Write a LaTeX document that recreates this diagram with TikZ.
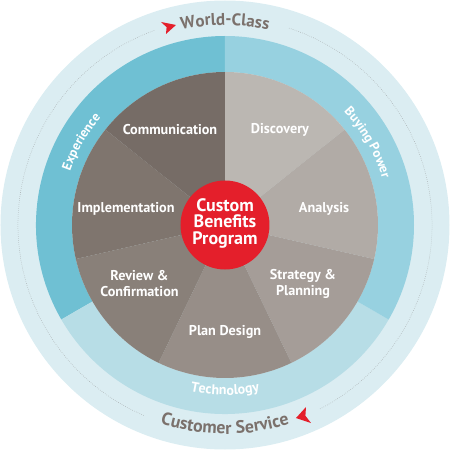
\documentclass[tikz,border=0pt]{standalone}
\usepackage{fontspec}
\setmainfont{PT Sans}
\usetikzlibrary{decorations.text}
\definecolor{outerring}{HTML}{DBEDF2}
\definecolor{expc}{HTML}{6FC0D3}
\definecolor{buyc}{HTML}{97D1E0}
\definecolor{techc}{HTML}{B7DDE6}
\definecolor{commc}{HTML}{766C66}
\definecolor{implc}{HTML}{7F756E}
\definecolor{revc}{HTML}{898079}
\definecolor{planc}{HTML}{978E88}
\definecolor{stratc}{HTML}{A59D98}
\definecolor{anac}{HTML}{B1ABA6}
\definecolor{discc}{HTML}{BBB7B2}
\definecolor{redc}{HTML}{E41F2B}
\definecolor{greytxt}{HTML}{7B716C}
\definecolor{dotc}{HTML}{A8AEB0}
\tikzset{
  pielabel/.style={text=white, font=\bfseries\fontsize{14.2}{16}\selectfont, align=center, inner sep=0pt},
  centerlabel/.style={text=white, font=\bfseries\fontsize{18}{16.5}\selectfont, align=center, inner sep=0pt},
  dotring/.style={dotc, line width=0.5pt, dash pattern=on 0.6pt off 1.4pt},
}
\newcommand{\sector}[3]{\fill[#1] (0,0) -- (#2:153pt) arc[start angle=#2, end angle=#3, radius=153pt] -- cycle;}
\newcommand{\ringseg}[3]{\fill[#1] (#2:153pt) arc[start angle=#2, end angle=#3, radius=153pt] -- (#3:189pt) arc[start angle=#3, end angle=#2, radius=189pt] -- cycle;}
\begin{document}
\begin{tikzpicture}[x=1pt,y=1pt]
\useasboundingbox (-225,-225) rectangle (225,225);
% outer ring
\fill[outerring] (0,0) circle[radius=224.5pt];
% dotted circle with gaps
\draw[dotring] (72:207pt) arc[start angle=72, end angle=-63, radius=207pt];
\draw[dotring] (110:207pt) arc[start angle=110, end angle=247, radius=207pt];
% middle ring
\ringseg{expc}{90}{210}
\ringseg{techc}{210}{330}
\ringseg{buyc}{330}{450}
% pie
\sector{discc}{90}{38.571}
\sector{anac}{38.571}{-12.857}
\sector{stratc}{-12.857}{-64.286}
\sector{planc}{-64.286}{-115.714}
\sector{revc}{-115.714}{-167.143}
\sector{implc}{-167.143}{-218.571}
\sector{commc}{-218.571}{-270}
% centre
\fill[redc] (0,0) circle[radius=44.5pt];
\node[centerlabel] (centre) at (0,2) {Custom\\Benefits\\Program};
% pie labels
\node[pielabel] (comm) at (-55,95) {Communication};
\node[pielabel] (disc) at (55,95) {Discovery};
\node[pielabel] (impl) at (-99,16) {Implementation};
\node[pielabel] (ana) at (99,16) {Analysis};
\node[pielabel] (rev) at (-85.5,-59) {Review \&\\Confirmation};
\node[pielabel] (strat) at (78,-59) {Strategy \&\\Planning};
\node[pielabel] (plan) at (0,-107) {Plan Design};
% ring labels
\path[decorate, decoration={text along path, text align=center,
  text format delimiters={|}{|},
  text={|\color{white}\bfseries\fontsize{13.2}{14}\selectfont|Experience}}]
  (185:164pt) arc[start angle=185, end angle=115, radius=164pt];
\path[decorate, decoration={text along path, text align=center,
  text format delimiters={|}{|},
  text={|\color{white}\bfseries\fontsize{13.2}{14}\selectfont|Buying Power}}]
  (65:164pt) arc[start angle=65, end angle=-5, radius=164pt];
\path[decorate, decoration={text along path, text align=center,
  text format delimiters={|}{|},
  text={|\color{white}\bfseries\fontsize{14}{15}\selectfont|Technology}}]
  (235:170pt) arc[start angle=235, end angle=305, radius=170pt];
\path[decorate, decoration={text along path, text align=center,
  text format delimiters={|}{|},
  text={|\color{greytxt}\bfseries\fontsize{17}{18}\selectfont|World-Class}}]
  (140:200pt) arc[start angle=140, end angle=40, radius=200pt];
\path[decorate, decoration={text along path, text align=center,
  text format delimiters={|}{|},
  text={|\color{greytxt}\bfseries\fontsize{17.8}{18}\selectfont|Customer Service}}]
  (220:209pt) arc[start angle=220, end angle=320, radius=209pt];
% arrows
\fill[redc] (-49,200) -- (-64,203) -- (-58.4,197.8) -- (-59,191) -- cycle;
\fill[redc] (71,-193) -- (81,-182) -- (80.4,-190.75) -- (86,-198) -- cycle;
\end{tikzpicture}
\end{document}
